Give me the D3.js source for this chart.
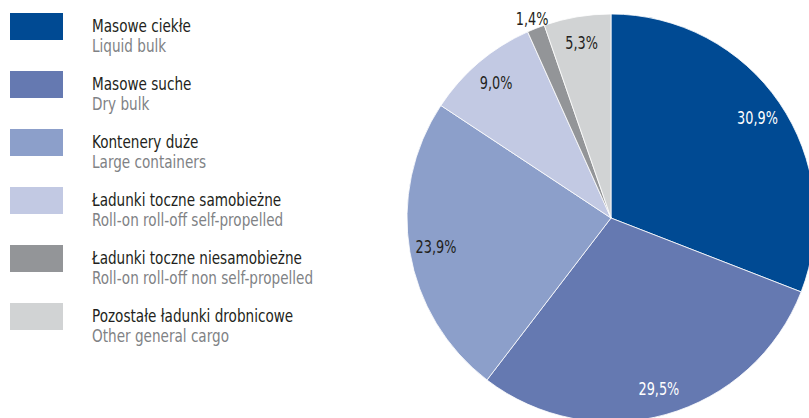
<!DOCTYPE html>
<html>
<head>
<meta charset="utf-8">
<script src="https://cdn.jsdelivr.net/npm/d3@7"></script>
<style>
  body { margin: 0; background: #fff; }
  svg text { font-family: "Liberation Sans Narrow", "DejaVu Sans Condensed", sans-serif; }
</style>
</head>
<body>
<div id="chart"></div>
<script>
// categories (PL / EN), shares in %, colours
var namesPl = ["Masowe ciekłe", "Masowe suche", "Kontenery duże", "Ładunki toczne samobieżne", "Ładunki toczne niesamobieżne", "Pozostałe ładunki drobnicowe"];
var namesEn = ["Liquid bulk", "Dry bulk", "Large containers", "Roll-on roll-off self-propelled", "Roll-on roll-off non self-propelled", "Other general cargo"];
var shares = [30.9, 29.5, 23.9, 9.0, 1.4, 5.3];
var colors = ["#004a93", "#6579b1", "#8c9fca", "#c2c9e3", "#939598", "#d1d3d4"];
var labelColors = ["#fff", "#fff", "#231f20", "#231f20", "#231f20", "#231f20"];

var width = 809, height = 418;
var cx = 611, cy = 218, radius = 204;
var squeeze = 0.84; // condensed look for text

var svg = d3.select("#chart").append("svg")
    .attr("width", width)
    .attr("height", height);

var data = shares.map(function(v, i) { return {i: i, value: v}; });

var pie = d3.pie().sort(null).value(function(d) { return d.value; });
var arcs = pie(data);

var arc = d3.arc().innerRadius(0).outerRadius(radius);
var labelArc = d3.arc().innerRadius(radius * 0.87).outerRadius(radius * 0.87);
var outerArc = d3.arc().innerRadius(radius * 1.05).outerRadius(radius * 1.05);

var g = svg.append("g").attr("transform", "translate(" + cx + "," + cy + ")");

g.selectAll("path")
    .data(arcs)
    .enter().append("path")
    .attr("d", arc)
    .attr("fill", function(d) { return colors[d.data.i]; })
    .attr("stroke", "#fff")
    .attr("stroke-width", 0.8);

g.selectAll("text.lbl")
    .data(arcs)
    .enter().append("text")
    .attr("class", "lbl")
    .attr("transform", function(d) {
        var p = d.data.value < 3 ? outerArc.centroid(d) : labelArc.centroid(d);
        return "translate(" + p[0] + "," + p[1] + ") scale(" + squeeze + ",1)";
    })
    .attr("text-anchor", "middle")
    .attr("dy", "0.35em")
    .attr("font-size", "17px")
    .attr("fill", function(d) { return d.data.value < 3 ? "#231f20" : labelColors[d.data.i]; })
    .text(function(d) { return d.data.value.toFixed(1).replace(".", ",") + "%"; });

// legend
var rowY = d3.scaleLinear().domain([0, 1]).range([13, 71]);

var legend = svg.append("g");
var rows = legend.selectAll("g")
    .data(namesPl)
    .enter().append("g")
    .attr("transform", function(d, i) { return "translate(0," + rowY(i) + ")"; });

rows.append("rect")
    .attr("x", 10).attr("y", 0)
    .attr("width", 53).attr("height", 27)
    .attr("fill", function(d, i) { return colors[i]; });

var txt = rows.append("g")
    .attr("transform", "translate(92,0) scale(" + squeeze + ",1)");

txt.append("text")
    .attr("x", 0).attr("y", 19)
    .attr("font-size", "18px")
    .attr("fill", "#231f20")
    .text(function(d) { return d; });

txt.append("text")
    .attr("x", 0).attr("y", 39)
    .attr("font-size", "18px")
    .attr("fill", "#808285")
    .text(function(d, i) { return namesEn[i]; });
</script>
</body>
</html>
